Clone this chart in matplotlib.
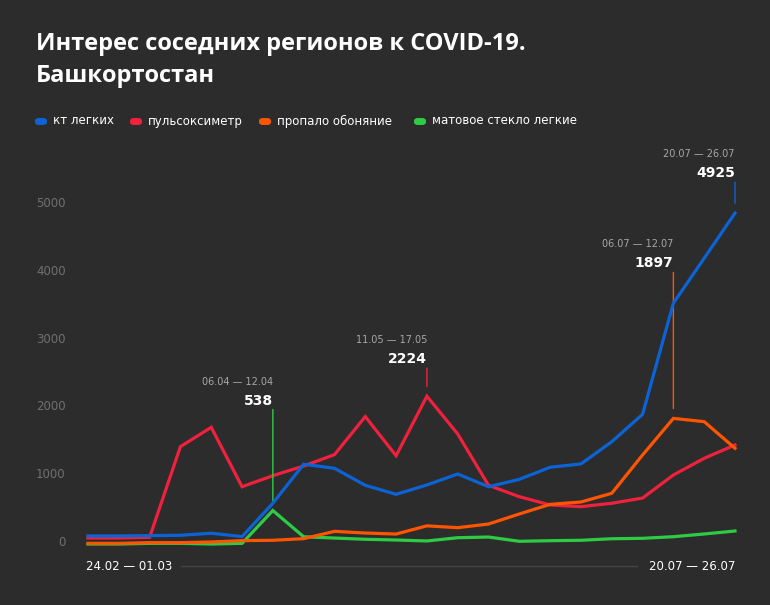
import numpy as np
import pandas as pd
import matplotlib
matplotlib.use("Agg")
import matplotlib.pyplot as plt
from matplotlib.patches import FancyBboxPatch
from matplotlib import transforms

# weeks 24.02 ... 20.07 (2020)
week_start = pd.date_range("2020-02-24", periods=22, freq="7D")
week_labels = [f"{d:%d.%m} — {d + pd.Timedelta(days=6):%d.%m}" for d in week_start]

series_names = ["кт легких", "пульсоксиметр", "пропало обоняние", "матовое стекло легкие"]
kt = [163, 163, 168, 173, 203, 153, 645, 1221, 1161, 910, 777, 915,
      1077, 889, 998, 1176, 1225, 1553, 1957, 3596, 4259, 4925]
pulse = [133, 133, 143, 1480, 1765, 889, 1052, 1195, 1362, 1923, 1347, 2224,
         1667, 910, 742, 620, 595, 645, 722, 1062, 1308, 1505]
smell = [54, 54, 64, 64, 74, 94, 99, 123, 231, 206, 191, 312,
         285, 339, 487, 629, 664, 792, 1357, 1897, 1849, 1456]
glass = [44, 44, 54, 54, 44, 54, 538, 151, 132, 114, 103, 89,
         137, 147, 84, 93, 99, 122, 128, 152, 192, 236]
colors = ["#0b63d6", "#f0213d", "#ff5400", "#2ecc45"]

# peaks to annotate: (series index, week index, label lift in px)
peaks = [(3, 6, 106), (1, 11, 33), (2, 19, 151), (0, 21, 36)]

BG = "#2c2c2c"
W, H = 770, 605
fig = plt.figure(figsize=(W / 100, H / 100), dpi=100, facecolor=BG)

# axes placement in pixels
x_left, x_right = 88, 735
ymin, ymax = -150, 5300
px_per = 0.0678
y_zero = 547
y_bot = y_zero + (-ymin) * px_per
y_top = y_zero - ymax * px_per
ax = fig.add_axes([x_left / W, 1 - y_bot / H, (x_right - x_left) / W, (y_bot - y_top) / H])
ax.set_facecolor(BG)
ax.set_xlim(0, 21)
ax.set_ylim(ymin, ymax)
for s in ax.spines.values():
    s.set_visible(False)

x = np.arange(len(kt))
data = [kt, pulse, smell, glass]
zorders = [4, 3, 5, 2]
for vals, c, z in zip(data, colors, zorders):
    ax.plot(x, vals, color=c, lw=2.3, zorder=z, solid_joinstyle="miter", clip_on=False)

ax.set_xticks([])
ax.set_yticks(range(0, 5001, 1000))
ax.tick_params(axis="y", length=0, pad=16, labelsize=8.5, labelcolor="#707070")
shift = transforms.ScaledTranslation(0, 6 / 100, fig.dpi_scale_trans)
for lab in ax.get_yticklabels():
    lab.set_transform(lab.get_transform() + shift)

# peak annotations
for si, wi, lift in peaks:
    v = data[si][wi]
    c = colors[si]
    ax.annotate("", xy=(wi, v), xytext=(0, lift - 5), textcoords="offset pixels",
                arrowprops=dict(arrowstyle="-", color=c, lw=1, shrinkA=0, shrinkB=7))
    ax.annotate(str(v), xy=(wi, v), xytext=(0, lift), textcoords="offset pixels",
                ha="right", va="baseline", fontsize=10, fontweight="bold", color="white")
    ax.annotate(week_labels[wi], xy=(wi, v), xytext=(0, lift + 20), textcoords="offset pixels",
                ha="right", va="baseline", fontsize=7, color="#a8a8a8")

# x range labels
fig.text(86 / W, 1 - 570 / H, week_labels[0], fontsize=8.5, color="white", va="baseline", ha="left")
fig.text(735 / W, 1 - 570 / H, week_labels[-1], fontsize=8.5, color="white", va="baseline", ha="right")
fig.add_artist(plt.Line2D([181 / W, 637 / W], [1 - 566 / H, 1 - 566 / H], color="#444444", lw=1))

# title
title_font = ["Open Sans", "DejaVu Sans"]
fig.text(36 / W, 1 - 50 / H, "Интерес соседних регионов к COVID-19.", fontsize=17,
         fontweight="bold", color="white", va="baseline", family=title_font)
fig.text(36 / W, 1 - 82 / H, "Башкортостан", fontsize=17,
         fontweight="bold", color="white", va="baseline", family=title_font)

# legend
leg_x = [35, 130, 259, 414]
for lx, name, c in zip(leg_x, series_names, colors):
    fig.add_artist(FancyBboxPatch((lx / W, 1 - 125 / H), 12 / W, 7 / H,
                                  boxstyle="round,pad=0,rounding_size=0.005",
                                  transform=fig.transFigure, facecolor=c, edgecolor="none"))
    fig.text((lx + 18) / W, 1 - 121 / H, name, fontsize=8.5, color="white", va="center")

fig.savefig("out.png", dpi=100, facecolor=BG)
